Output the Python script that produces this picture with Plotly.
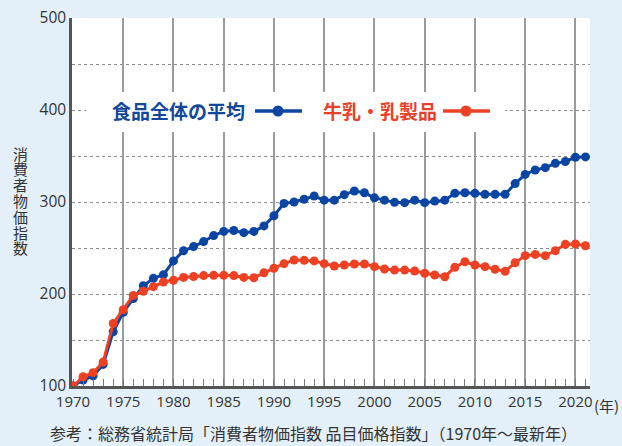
import plotly.graph_objects as go

years = list(range(1970, 2022))
food_avg = [100, 106.5, 111, 123.5, 159, 180, 195, 209, 217, 221,
            236, 247, 251.5, 257, 263.5, 268, 269, 266.7, 268, 274,
            285, 298.5, 300, 303, 306.5, 302, 302, 308, 312, 310,
            304.5, 302, 299.6, 299.3, 302, 299.3, 301, 302, 309.5, 310,
            309.4, 308.3, 308.3, 308.3, 320, 330, 334.8, 337.3, 342, 344,
            348.6, 349]
dairy = [100, 110, 114.5, 126, 168, 183, 198.5, 203, 208, 213,
         215, 218, 219, 220, 220.3, 220.3, 220, 218, 217.7, 223,
         228, 233, 237, 236.6, 236, 233, 230.4, 231.5, 232.6, 232.6,
         229.7, 227.2, 226, 226, 225, 222.5, 220.6, 218.8, 229, 235,
         231.5, 229.7, 226.8, 224.6, 234, 241.7, 243, 241.7, 247, 254,
         254.3, 252.5]

x_ticks = list(range(1970, 2021, 5))
y_ticks = [100, 200, 300, 400, 500]
y_grid = [150, 200, 250, 300, 350, 400, 450]

name_food = "食品全体の平均"
name_dairy = "牛乳・乳製品"
y_title = "消費者物価指数"
source = "参考：総務省統計局「消費者物価指数 品目価格指数」（1970年～最新年）"

BLUE = "#0b45a3"
RED = "#ee4123"
FONT = "Noto Sans CJK JP"

fig = go.Figure()
fig.add_trace(go.Scatter(x=years, y=food_avg, mode="lines+markers", name=name_food,
                         line=dict(color=BLUE, width=3), marker=dict(color=BLUE, size=9)))
fig.add_trace(go.Scatter(x=years, y=dairy, mode="lines+markers", name=name_dairy,
                         line=dict(color=RED, width=3), marker=dict(color=RED, size=9)))

fig.update_layout(
    width=622, height=446,
    margin=dict(l=72, r=32, t=18, b=60),
    paper_bgcolor="#e3f0f9",
    plot_bgcolor="white",
    showlegend=False,
    font=dict(family=FONT, color="#333333"),
)

fig.update_xaxes(
    range=[1969.9, 2021.45], tickvals=x_ticks, ticktext=[str(v) for v in x_ticks],
    ticks="", showgrid=True, gridcolor="#9a9a9a", gridwidth=1.5,
    showline=True, linecolor="#555555", linewidth=2.5,
    tickfont=dict(family="Open Sans", size=15, color="#333333"),
    minor=dict(dtick=1, tick0=1970, ticks="inside", ticklen=7, tickcolor="#777777",
               tickwidth=1, showgrid=False),
    zeroline=False, fixedrange=True, automargin=False,
)
fig.update_yaxes(
    range=[100, 500], tickvals=y_ticks, ticktext=[str(v) for v in y_ticks],
    ticks="", showgrid=False, showline=True, linecolor="#555555", linewidth=2.5,
    tickfont=dict(family="Open Sans", size=15.5, color="#333333"),
    minor=dict(tickvals=y_grid, showgrid=True, griddash="dot", gridcolor="#8a8a8a",
               gridwidth=1.3, ticks=""),
    zeroline=False, fixedrange=True, automargin=False,
)

W, H = 518.0, 368.0
def px(x):
    return (x - 72) / W
def py(y):
    return (386 - y) / H

shapes = [
    dict(type="rect", xref="paper", yref="paper", x0=px(86), x1=px(505), y0=py(132), y1=py(92),
         fillcolor="white", line=dict(width=0), layer="above"),
]
for (x0, x1, xc, col) in [(255, 302, 278, BLUE), (443, 490, 466, RED)]:
    shapes.append(dict(type="line", xref="paper", yref="paper", x0=px(x0), x1=px(x1),
                       y0=py(111), y1=py(111), line=dict(color=col, width=3.5), layer="above"))
    shapes.append(dict(type="circle", xref="paper", yref="paper", x0=px(xc - 5.5), x1=px(xc + 5.5),
                       y0=py(116.5), y1=py(105.5), fillcolor=col, line=dict(width=0), layer="above"))
fig.update_layout(shapes=shapes)

annotations = [
    dict(text="<b>" + name_food + "</b>", xref="paper", yref="paper", x=px(247), y=py(111),
         xanchor="right", yanchor="middle", showarrow=False,
         font=dict(family=FONT, size=19, color="#12489c")),
    dict(text="<b>" + name_dairy + "</b>", xref="paper", yref="paper", x=px(439), y=py(111),
         xanchor="right", yanchor="middle", showarrow=False,
         font=dict(family=FONT, size=19, color="#e8402a")),
    dict(text="(年)", xref="paper", yref="paper", x=px(592), y=py(405),
         xanchor="left", yanchor="middle", showarrow=False,
         font=dict(family=FONT, size=15, color="#333333")),
    dict(text=source, xref="paper", yref="paper", x=px(313), y=py(433),
         xanchor="center", yanchor="middle", showarrow=False,
         font=dict(family=FONT, size=16, color="#333333")),
]
# vertical (stacked) y-axis title
for i, ch in enumerate(y_title):
    annotations.append(dict(text=ch, xref="paper", yref="paper", x=px(20), y=py(153 + i * 15.8),
                            xanchor="center", yanchor="middle", showarrow=False,
                            font=dict(family=FONT, size=15, color="#333333")))
fig.update_layout(annotations=annotations)

fig.write_html("out.html", config={"displayModeBar": False},
               post_script="document.body.style.margin='0';document.body.style.overflow='hidden';")
